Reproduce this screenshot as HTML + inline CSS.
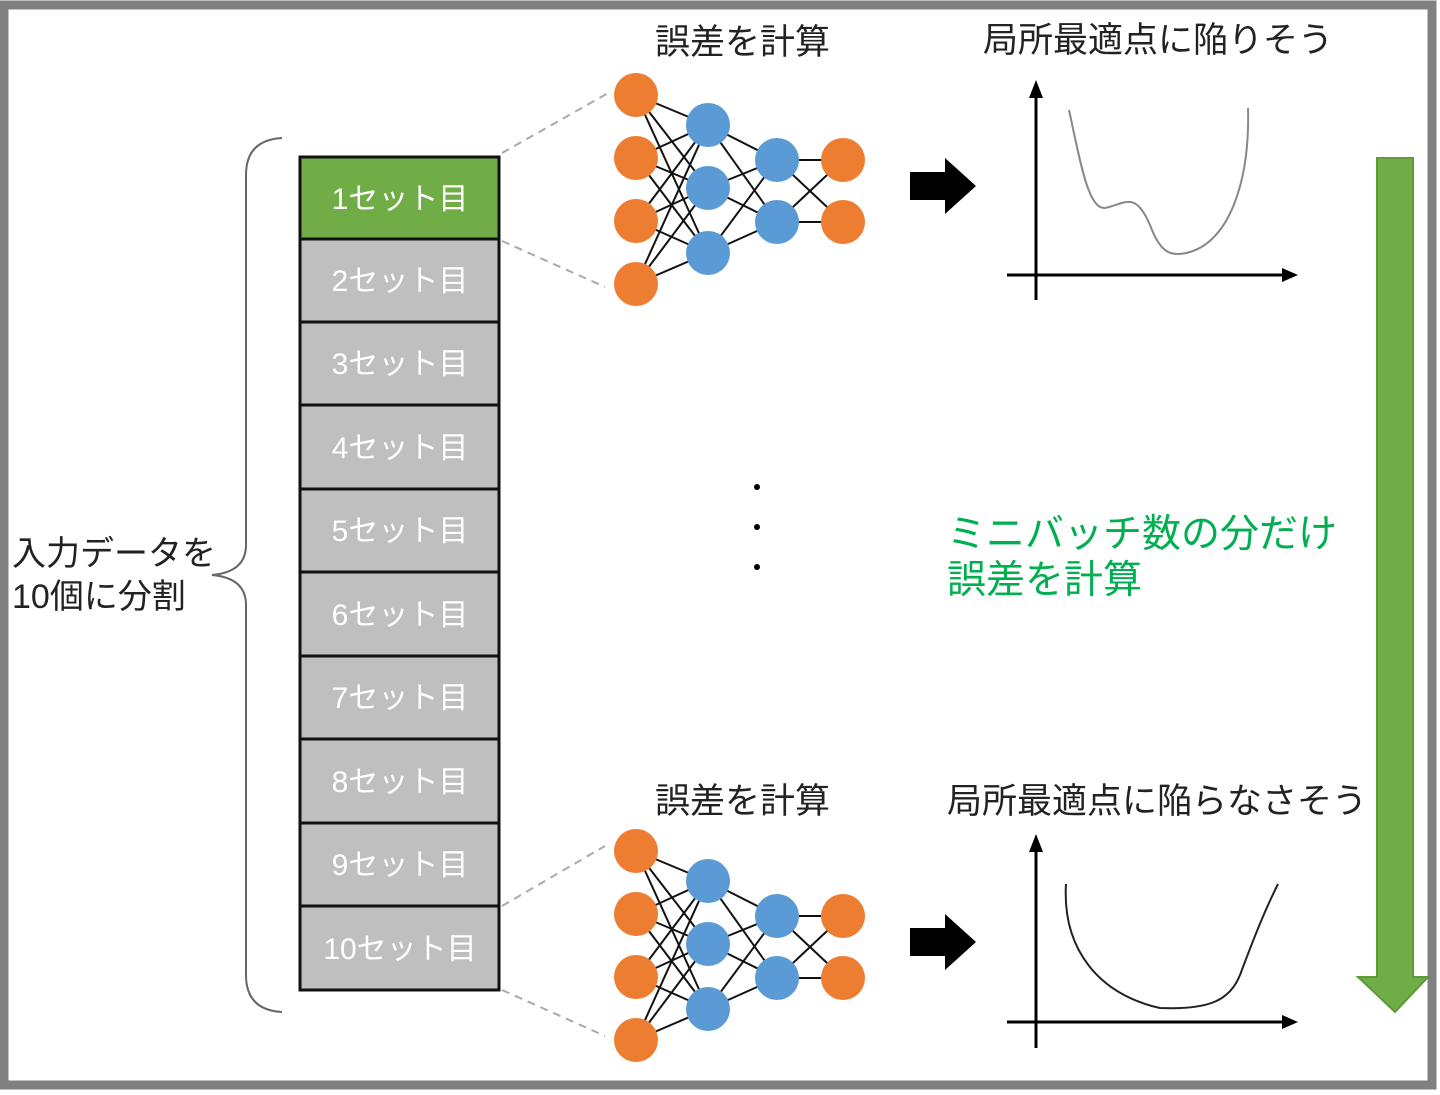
<!DOCTYPE html>
<html><head><meta charset="utf-8"><style>
html,body{margin:0;padding:0;background:#fff}
svg{display:block}
text{font-family:"Liberation Sans","Noto Sans CJK JP",sans-serif}
</style></head><body>
<svg width="1440" height="1095" viewBox="0 0 1440 1095" xmlns="http://www.w3.org/2000/svg">
<defs>
<g id="net">
<g stroke="#111" stroke-width="2">
<line x1="636" y1="95" x2="708" y2="125"/><line x1="636" y1="95" x2="708" y2="188"/><line x1="636" y1="95" x2="708" y2="253"/>
<line x1="636" y1="158" x2="708" y2="125"/><line x1="636" y1="158" x2="708" y2="188"/><line x1="636" y1="158" x2="708" y2="253"/>
<line x1="636" y1="221" x2="708" y2="125"/><line x1="636" y1="221" x2="708" y2="188"/><line x1="636" y1="221" x2="708" y2="253"/>
<line x1="636" y1="284" x2="708" y2="125"/><line x1="636" y1="284" x2="708" y2="188"/><line x1="636" y1="284" x2="708" y2="253"/>
<line x1="708" y1="125" x2="777" y2="160"/><line x1="708" y1="125" x2="777" y2="222"/>
<line x1="708" y1="188" x2="777" y2="160"/><line x1="708" y1="188" x2="777" y2="222"/>
<line x1="708" y1="253" x2="777" y2="160"/><line x1="708" y1="253" x2="777" y2="222"/>
<line x1="777" y1="160" x2="843" y2="160"/><line x1="777" y1="160" x2="843" y2="222"/>
<line x1="777" y1="222" x2="843" y2="160"/><line x1="777" y1="222" x2="843" y2="222"/>
</g>
<g fill="#ed7d31">
<circle cx="636" cy="95" r="22"/><circle cx="636" cy="158" r="22"/><circle cx="636" cy="221" r="22"/><circle cx="636" cy="284" r="22"/>
<circle cx="843" cy="160" r="22"/><circle cx="843" cy="222" r="22"/>
</g>
<g fill="#5b9bd5">
<circle cx="708" cy="125" r="22"/><circle cx="708" cy="188" r="22"/><circle cx="708" cy="253" r="22"/>
<circle cx="777" cy="160" r="22"/><circle cx="777" cy="222" r="22"/>
</g>
<polygon points="910,172 945,172 945,158 976,186 945,214 945,200 910,200" fill="#000"/>
</g>
</defs>
<rect x="4" y="5" width="1428" height="1080" fill="#fff" stroke="#808080" stroke-width="9"/>

<path d="M282,138 Q246,140 246,175 L246,545 Q246,572 212,575 Q246,578 246,605 L246,975 Q246,1010 282,1012" fill="none" stroke="#666" stroke-width="2"/>

<g stroke="#111" stroke-width="3">
<rect x="300" y="157" width="199" height="82" fill="#70ad47"/>
<rect x="300" y="239" width="199" height="83" fill="#bfbfbf"/>
<rect x="300" y="322" width="199" height="83" fill="#bfbfbf"/>
<rect x="300" y="405" width="199" height="84" fill="#bfbfbf"/>
<rect x="300" y="489" width="199" height="83" fill="#bfbfbf"/>
<rect x="300" y="572" width="199" height="84" fill="#bfbfbf"/>
<rect x="300" y="656" width="199" height="83" fill="#bfbfbf"/>
<rect x="300" y="739" width="199" height="84" fill="#bfbfbf"/>
<rect x="300" y="823" width="199" height="83" fill="#bfbfbf"/>
<rect x="300" y="906" width="199" height="84" fill="#bfbfbf"/>
</g>
<g fill="#fff" font-size="30" text-anchor="middle">
<text x="400" y="209">1セット目</text>
<text x="400" y="291">2セット目</text>
<text x="400" y="374">3セット目</text>
<text x="400" y="458">4セット目</text>
<text x="400" y="541">5セット目</text>
<text x="400" y="625">6セット目</text>
<text x="400" y="708">7セット目</text>
<text x="400" y="792">8セット目</text>
<text x="400" y="875">9セット目</text>
<text x="400" y="959">10セット目</text>
</g>

<g stroke="#aaa" stroke-width="2" stroke-dasharray="8,6">
<line x1="502" y1="153" x2="610" y2="92"/>
<line x1="502" y1="241" x2="605" y2="287"/>
<line x1="502" y1="906" x2="605" y2="846"/>
<line x1="502" y1="990" x2="605" y2="1036"/>
</g>

<use href="#net"/>
<use href="#net" transform="translate(0,756)"/>

<g stroke="#000" stroke-width="3">
<line x1="1036" y1="92" x2="1036" y2="300"/>
<line x1="1007" y1="275" x2="1288" y2="275"/>
<line x1="1036" y1="846" x2="1036" y2="1048"/>
<line x1="1007" y1="1022" x2="1288" y2="1022"/>
</g>
<polygon points="1029,98 1043,98 1036,80" fill="#000"/>
<polygon points="1282,268 1282,282 1298,275" fill="#000"/>
<polygon points="1029,852 1043,852 1036,834" fill="#000"/>
<polygon points="1282,1015 1282,1029 1298,1022" fill="#000"/>

<path d="M1069,110 C1080,160 1088,210 1105,208 C1125,204 1135,190 1150,225 C1160,252 1170,258 1190,252 C1230,240 1250,180 1248,108" fill="none" stroke="#888" stroke-width="2"/>
<path d="M1066,884 C1062,950 1100,995 1160,1008 C1210,1010 1230,1000 1240,975 C1255,935 1265,910 1278,884" fill="none" stroke="#222" stroke-width="2"/>

<g fill="#000"><circle cx="757" cy="487" r="3"/><circle cx="757" cy="527" r="3"/><circle cx="757" cy="567" r="3"/></g>

<polygon points="1377,158 1413,158 1413,977 1428,977 1395,1012 1358,977 1377,977" fill="#70ad47" stroke="#5e9a3a" stroke-width="2"/>

<g font-size="35" fill="#222">
<text x="655" y="54">誤差を計算</text>
<text x="983" y="52">局所最適点に陥りそう</text>
<text x="655" y="813">誤差を計算</text>
<text x="947" y="813">局所最適点に陥らなさそう</text>
<text x="12" y="565" font-size="34">入力データを</text>
<text x="12" y="608" font-size="34">10個に分割</text>
</g>
<g font-size="39" fill="#00b050">
<text x="947" y="547">ミニバッチ数の分だけ</text>
<text x="947" y="593">誤差を計算</text>
</g>
</svg>
</body></html>
